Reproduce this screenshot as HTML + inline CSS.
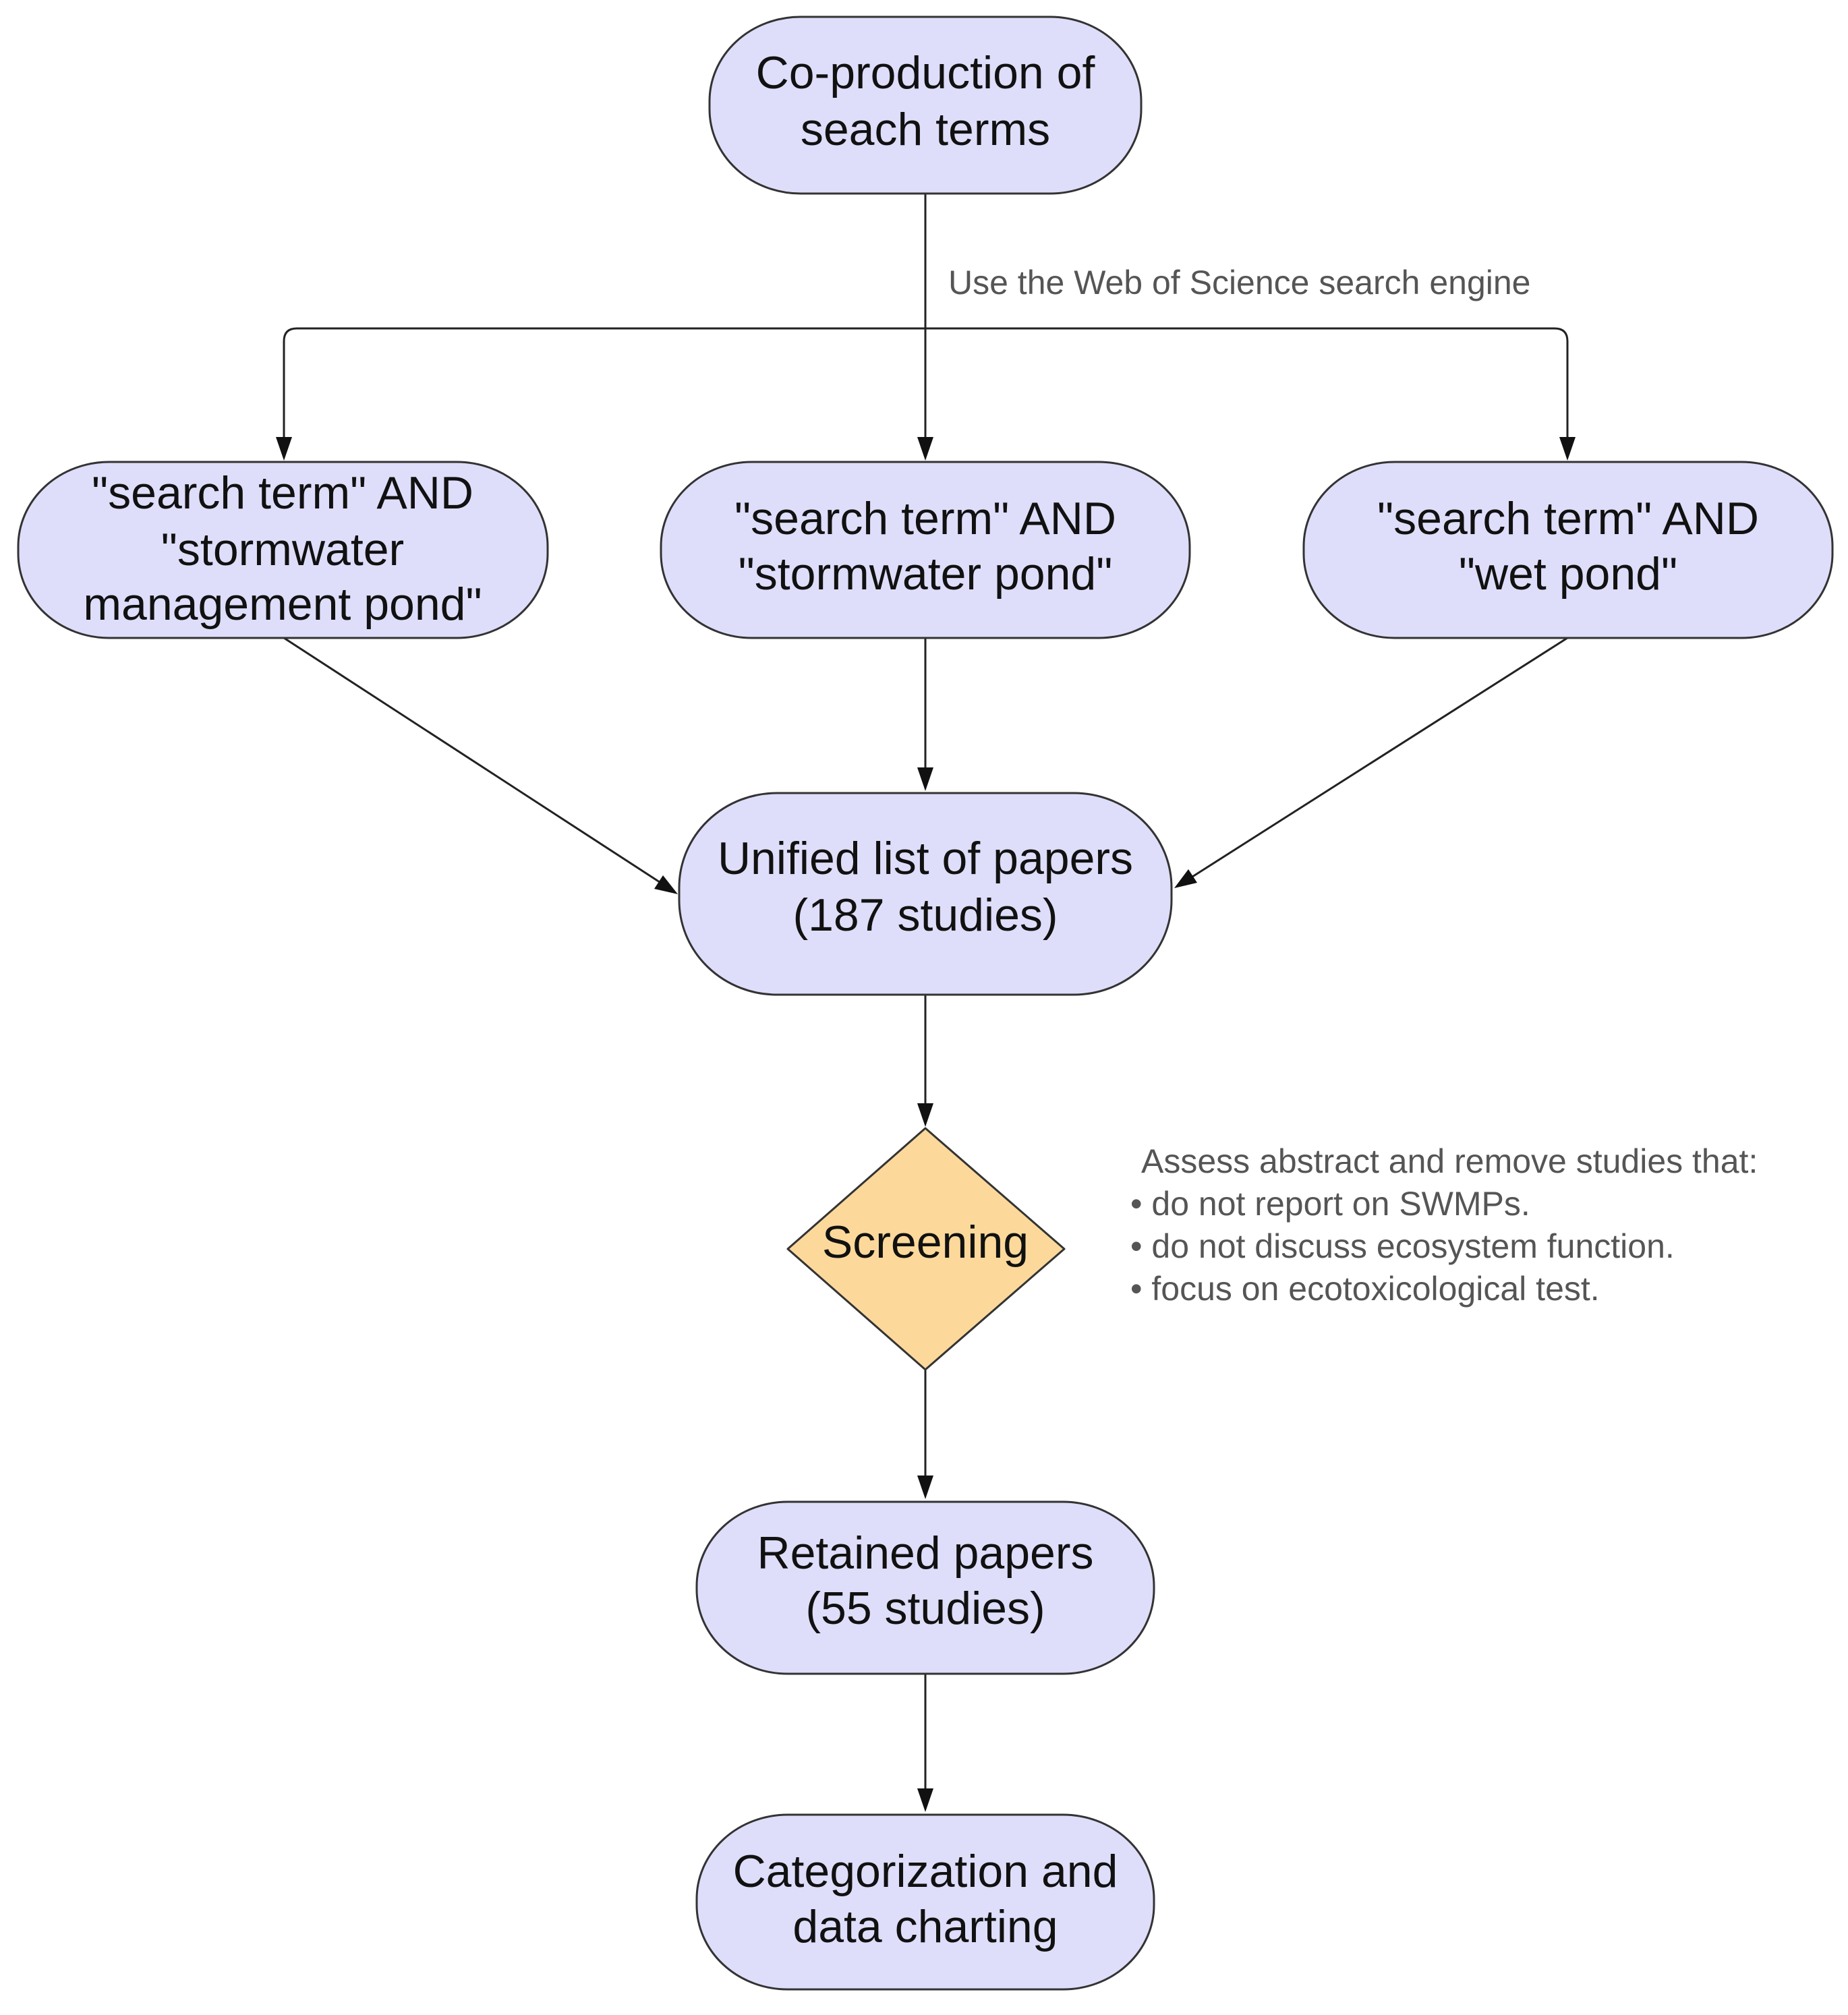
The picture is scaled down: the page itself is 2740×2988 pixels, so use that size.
<!DOCTYPE html>
<html><head><meta charset="utf-8"><style>html,body{margin:0;padding:0;background:#fff}svg{display:block}</style></head>
<body>
<svg width="2740" height="2988" viewBox="0 0 2740 2988" xmlns="http://www.w3.org/2000/svg">
<g fill="none" stroke="#222" stroke-width="3">
<path d="M1372 287 V487"/>
<path d="M1372 487 H440 Q421 487 421 506 V650"/>
<path d="M1372 487 H2305 Q2324 487 2324 506 V650"/>
<path d="M1372 487 V650"/>
<path d="M421 946 L978 1308"/>
<path d="M1372 946 V1140"/>
<path d="M2324 946 L1768 1300"/>
<path d="M1372 1475 V1640"/>
<path d="M1372 2031 V2192"/>
<path d="M1372 2482 V2656"/>
</g>
<g fill="#111">
<polygon points="421,683 409,648 433,648"/>
<polygon points="1372,683 1360,648 1384,648"/>
<polygon points="2324,683 2312,648 2336,648"/>
<polygon points="1372,1173 1360,1138 1384,1138"/>
<polygon points="1005,1326 970,1318 983,1298"/>
<polygon points="1741,1317 1762,1289 1775,1309"/>
<polygon points="1372,1671 1360,1636 1384,1636"/>
<polygon points="1372,2223 1360,2188 1384,2188"/>
<polygon points="1372,2687 1360,2652 1384,2652"/>
</g>
<g fill="#dedefb" stroke="#333" stroke-width="3">
<rect x="1052" y="25" width="640" height="262" rx="135" ry="125"/>
<rect x="27" y="685" width="785" height="261" rx="135" ry="125"/>
<rect x="980" y="685" width="784" height="261" rx="135" ry="125"/>
<rect x="1933" y="685" width="784" height="261" rx="135" ry="125"/>
<rect x="1007" y="1176" width="730" height="299" rx="145" ry="140"/>
<rect x="1033" y="2227" width="678" height="255" rx="135" ry="125"/>
<rect x="1033" y="2691" width="678" height="259" rx="135" ry="125"/>
</g>
<polygon points="1372,1673 1578,1852 1372,2031 1168,1852" fill="#fcd99b" stroke="#333" stroke-width="3" stroke-linejoin="round"/>
<g font-family="Liberation Sans, sans-serif" font-size="68" fill="#111" text-anchor="middle" dominant-baseline="central">
<text x="1372" y="108">Co-production of</text>
<text x="1372" y="192">seach terms</text>
<text x="419" y="731">"search term" AND</text>
<text x="419" y="815">"stormwater</text>
<text x="419" y="896">management pond"</text>
<text x="1372" y="769">"search term" AND</text>
<text x="1372" y="851">"stormwater pond"</text>
<text x="2325" y="769">"search term" AND</text>
<text x="2325" y="851">"wet pond"</text>
<text x="1372" y="1273">Unified list of papers</text>
<text x="1372" y="1357">(187 studies)</text>
<text x="1372" y="1842">Screening</text>
<text x="1372" y="2303">Retained papers</text>
<text x="1372" y="2385">(55 studies)</text>
<text x="1372" y="2775">Categorization and</text>
<text x="1372" y="2857">data charting</text>
</g>
<g font-family="Liberation Sans, sans-serif" font-size="50" fill="#555" dominant-baseline="central">
<text x="1406" y="419">Use the Web of Science search engine</text>
<text x="1692" y="1722">Assess abstract and remove studies that:</text>
<text x="1676" y="1785">• do not report on SWMPs.</text>
<text x="1676" y="1848">• do not discuss ecosystem function.</text>
<text x="1676" y="1911">• focus on ecotoxicological test.</text>
</g>
</svg>
</body></html>
